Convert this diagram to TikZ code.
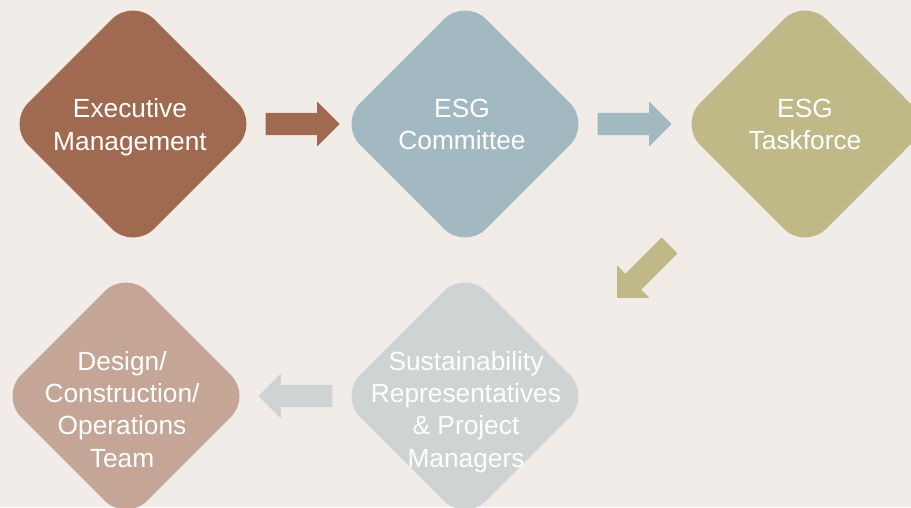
\documentclass[tikz,border=0pt]{standalone}
\usepackage{fontspec}
\setmainfont{Liberation Sans}
\usetikzlibrary{shapes.geometric,shapes.arrows}
\definecolor{bg}{HTML}{F1ECE8}
\definecolor{cbrown}{HTML}{A06A50}
\definecolor{cblue}{HTML}{A3B9C1}
\definecolor{colive}{HTML}{BFB987}
\definecolor{cgrey}{HTML}{CFD3D3}
\definecolor{ctaupe}{HTML}{C4A596}
\begin{document}
\begin{tikzpicture}[x=1pt,y=-1pt,
  stage/.style={diamond, aspect=1, minimum width=252pt, minimum height=252pt,
    inner sep=0pt, rounded corners=30pt, draw=none},
  stagetext/.style={text=white, align=center, font=\fontsize{26.3}{32.3}\selectfont,
    inner sep=0pt, anchor=base},
  blockarrow/.style={single arrow, single arrow head extend=11.5pt,
    inner sep=11pt, minimum height=74pt, draw=none, anchor=tip}]
  % canvas
  \useasboundingbox (0,0) rectangle (911,507);
  \fill[bg] (0,0) rectangle (911,507);
  \clip (0,0) rectangle (911,507);

  % stages
  \node[stage, fill=cbrown] (exec) at (133,124) {};
  \node[stage, fill=cblue]  (comm) at (465,124) {};
  \node[stage, fill=colive] (task) at (805,124) {};
  \node[stage, fill=cgrey]  (reps) at (465,396) {};
  \node[stage, fill=ctaupe] (team) at (126,396) {};

  % stage titles (placed by the baseline of their last line)
  \node[stagetext] (execlbl) at (130,150) {Executive\\Management};
  \node[stagetext] (commlbl) at (462,149.5) {ESG\\Committee};
  \node[stagetext] (tasklbl) at (805,149.5) {ESG\\Taskforce};
  \node[stagetext] (repslbl) at (466,467) {Sustainability\\Representatives\\\& Project\\Managers};
  \node[stagetext] (teamlbl) at (122,467) {Design/\\Construction/\\Operations\\Team};

  % block arrows between stages
  \node[blockarrow, fill=cbrown] (a1) at (340,124) {};
  \node[blockarrow, fill=cblue]  (a2) at (672,124) {};
  \node[blockarrow, fill=colive, rotate=225] (a3) at (617,298) {};
  \node[blockarrow, fill=cgrey,  rotate=180] (a4) at (258,396) {};
\end{tikzpicture}
\end{document}
